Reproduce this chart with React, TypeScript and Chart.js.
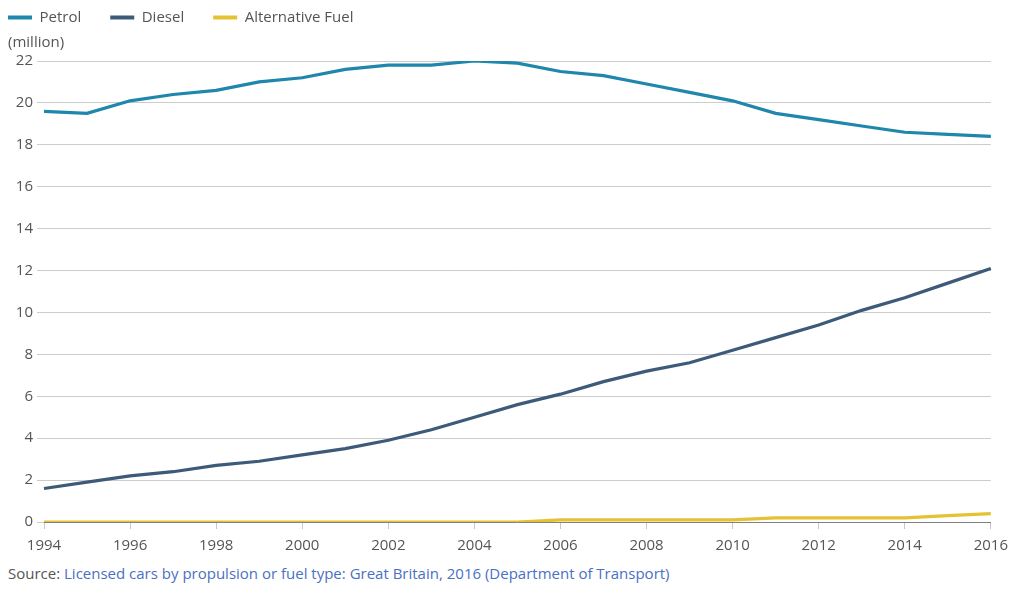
import React, { useEffect, useRef } from "react";
import { Chart, registerables } from "chart.js";

Chart.register(...registerables);

const years = [
  "1994", "1995", "1996", "1997", "1998", "1999", "2000", "2001", "2002", "2003", "2004",
  "2005", "2006", "2007", "2008", "2009", "2010", "2011", "2012", "2013", "2014", "2015", "2016",
];
const petrol = [19.6, 19.5, 20.1, 20.4, 20.6, 21.0, 21.2, 21.6, 21.8, 21.8, 22.0, 21.9, 21.5, 21.3, 20.9, 20.5, 20.1, 19.5, 19.2, 18.9, 18.6, 18.5, 18.4];
const diesel = [1.6, 1.9, 2.2, 2.4, 2.7, 2.9, 3.2, 3.5, 3.9, 4.4, 5.0, 5.6, 6.1, 6.7, 7.2, 7.6, 8.2, 8.8, 9.4, 10.1, 10.7, 11.4, 12.1];
const alternative = [0, 0, 0, 0, 0, 0, 0, 0, 0, 0, 0, 0, 0.1, 0.1, 0.1, 0.1, 0.1, 0.2, 0.2, 0.2, 0.2, 0.3, 0.4];
const seriesNames = ["Petrol", "Diesel", "Alternative Fuel"];
const seriesColors = ["#1f86ac", "#3d5a79", "#e5c233"];
const yTickMax = 22;
const yTickStep = 2;
const unitLabel = "(million)";

const FONT = "'Open Sans', 'Noto Sans', sans-serif";
const TEXT = "#555555";
const FS = 15;

export default function App() {
  const ref = useRef<HTMLCanvasElement | null>(null);

  useEffect(() => {
    if (!ref.current) return;
    const unitPlugin = {
      id: "unitPlugin",
      beforeInit(chart: any) {
        const legend = chart.legend;
        if (legend) {
          const orig = legend.fit;
          legend.fit = function () {
            orig.call(this);
            this.height = 80;
          };
        }
      },
      afterDraw(chart: any) {
        const ctx = chart.ctx;
        ctx.save();
        ctx.font = `${FS}px ${FONT}`;
        ctx.fillStyle = TEXT;
        ctx.textAlign = "left";
        ctx.textBaseline = "middle";
        ctx.fillText(unitLabel, 29, 62);
        ctx.restore();
      },
    };

    const chart = new Chart(ref.current, {
      type: "line",
      data: {
        labels: years,
        datasets: [petrol, diesel, alternative].map((d, i) => ({
          label: seriesNames[i],
          data: d,
          borderColor: seriesColors[i],
          backgroundColor: seriesColors[i],
          borderWidth: 3.2,
          pointRadius: 0,
          tension: 0,
        })),
      },
      options: {
        animation: false,
        responsive: true,
        maintainAspectRatio: false,
        layout: { padding: { left: 0, right: 14, top: 0, bottom: 0 } },
        plugins: {
          tooltip: { enabled: false },
          legend: {
            position: "top",
            align: "start",
            labels: {
              boxWidth: 24,
              boxHeight: 4,
              padding: 29,
              color: TEXT,
              font: { family: FONT, size: FS },
              generateLabels(chart: any) {
                return chart.data.datasets.map((ds: any, i: number) => ({
                  text: ds.label,
                  fillStyle: ds.borderColor,
                  strokeStyle: ds.borderColor,
                  lineWidth: 0,
                  fontColor: TEXT,
                  hidden: false,
                  datasetIndex: i,
                }));
              },
            },
          },
        },
        scales: {
          x: {
            type: "category",
            grid: {
              display: true,
              drawOnChartArea: false,
              drawTicks: true,
              tickLength: 7,
              color: "#c8c8c8",
            },
            border: { display: true, color: "#808080", width: 1 },
            ticks: {
              autoSkip: false,
              maxRotation: 0,
              padding: 8,
              color: TEXT,
              font: { family: FONT, size: FS },
              callback(this: any, _v: any, idx: number) {
                const y = Number(years[idx]);
                return y % 2 === 0 ? String(y) : null;
              },
            },
            afterFit(scale: any) {
              scale.height = 40;
            },
          },
          y: {
            min: 0,
            max: yTickMax,
            grid: { color: "#cccccc", tickLength: 7, drawTicks: true },
            border: { display: false },
            ticks: {
              stepSize: yTickStep,
              padding: 4,
              color: TEXT,
              font: { family: FONT, size: FS },
            },
            afterFit(scale: any) {
              scale.width = 65;
            },
          },
        },
      },
      plugins: [unitPlugin],
    });
    return () => chart.destroy();
  }, []);

  return (
    <div style={{ position: "fixed", left: 0, top: 0, width: 1012, height: 593, overflow: "hidden", background: "#fff" }}>
      <div style={{ position: "absolute", left: -21, top: -19, width: 1037, height: 581 }}>
        <canvas ref={ref} />
      </div>
      <div
        style={{
          position: "absolute",
          left: 8,
          top: 563,
          fontFamily: FONT,
          fontSize: FS,
          lineHeight: "20px",
          color: TEXT,
          whiteSpace: "nowrap",
        }}
      >
        Source: <span style={{ color: "#4a70c4" }}>Licensed cars by propulsion or fuel type: Great Britain, 2016 (Department of Transport)</span>
      </div>
    </div>
  );
}
